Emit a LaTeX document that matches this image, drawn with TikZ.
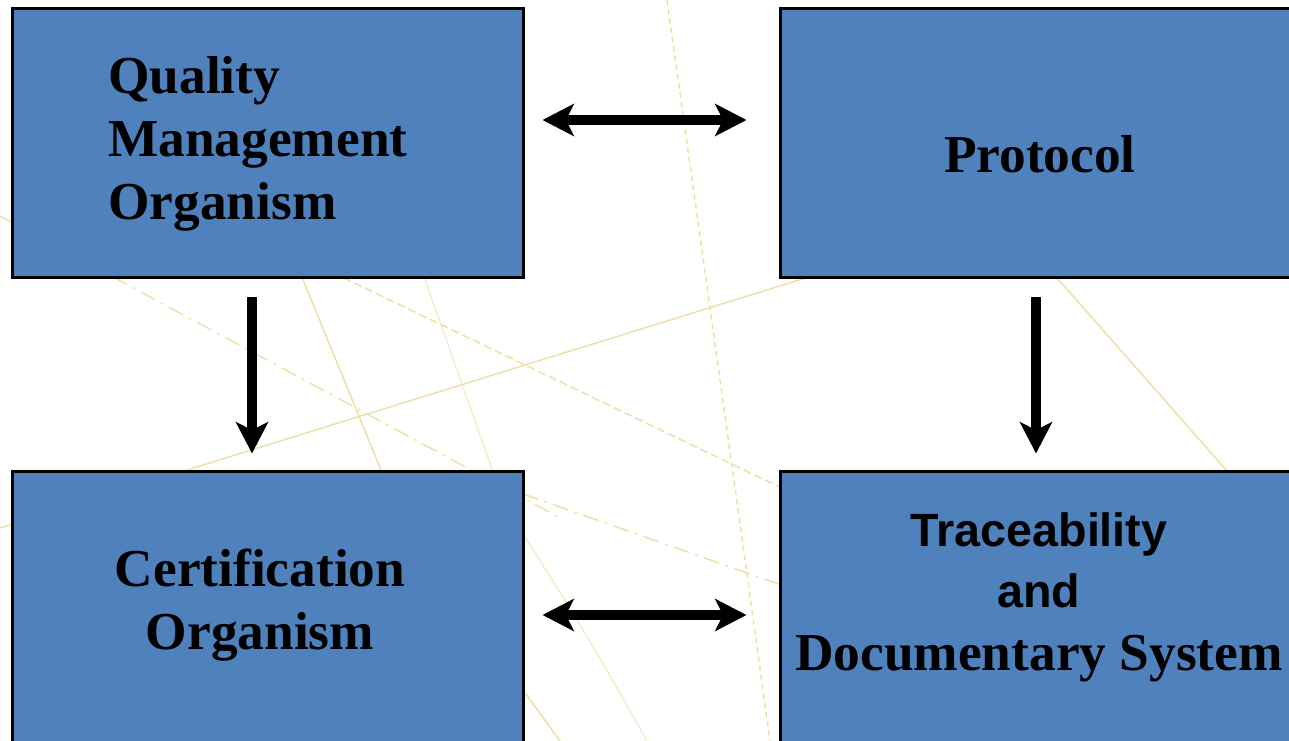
\documentclass[tikz,border=0pt]{standalone}
\usepackage{fontspec}
\setmainfont{Liberation Serif}
\setsansfont{Liberation Sans}
\usetikzlibrary{arrows.meta,calc}
\definecolor{boxblue}{HTML}{4F81BD}
\definecolor{paleline}{HTML}{EEDFA6}

\begin{document}
\begin{tikzpicture}[x=0.75pt, y=-0.75pt, >={Stealth[length=23.5pt, width=24pt, inset=6pt]},
    box/.style={draw=black, line width=2.25pt, fill=boxblue, inner sep=0pt},
    arr/.style={line width=7.2pt},
    bg/.style={paleline, line width=1.1pt},
    lbl/.style={inner sep=0pt, font=\fontsize{40}{47.25}\selectfont\bfseries}]
    \useasboundingbox (0,0) rectangle (1289,741);
    \clip (0,0) rectangle (1289,741);

    % faint lines in the background
    \draw [bg] (0,528) -- (1289,128);
    \draw [bg, dash pattern=on 12pt off 5pt on 2pt off 5pt] (0,216) -- (560,518);
    \draw [bg, dash pattern=on 12pt off 5pt on 2pt off 5pt] (523,494) -- (790,588);
    \draw [bg, dash pattern=on 6pt off 3pt] (300,257) -- (790,492);
    \draw [bg, dash pattern=on 4pt off 3pt] (667,0) -- (733,473) -- (770,741);
    \draw [bg] (295,260) -- (385,480);
    \draw [bg, opacity=0.6] (418,260) -- (496,480);
    \draw [bg] (1050,270) -- (1235,480);
    \draw [bg, opacity=0.6] (525,537) .. controls (590,640) .. (647,741);
    \draw [bg] (523,690) -- (560,741);

    % boxes
    \node [box, minimum width=383.25pt, minimum height=201.75pt] (qmo) at (267.5,143.5) {};
    \node [box, minimum width=390pt, minimum height=201.75pt] (prot) at (1040,143.5) {};
    \node [box, minimum width=383.25pt, minimum height=225pt] (cert) at (267.5,622) {};
    \node [box, minimum width=390pt, minimum height=225pt] (trace) at (1040,622) {};

    \node [lbl, anchor=north west, align=left] (qmotxt) at (108,56.5) {Quality\\Management\\Organism};
    \node [lbl, anchor=base] (prottxt) at (1040,173) {Protocol};
    \node [lbl, anchor=north, align=center] (certtxt) at (260,549) {Certification\\Organism};
    \node [lbl, anchor=north, align=center, font=\fontsize{35}{45.75}\selectfont\bfseries] (tracetxt) at (1039,512.5)
        {\sffamily Traceability\\\sffamily and\\[1.5pt]\rmfamily\fontsize{40}{47.25}\selectfont Documentary System};

    % arrows
    \draw [arr, <->] ([shift={(18,-23.5)}]qmo.east) -- ([shift={(-32,-23.5)}]prot.west);
    \draw [arr, <->] ([shift={(18,-7)}]cert.east) -- ([shift={(-32,-7)}]trace.west);
    \draw [arr, ->] ([shift={(-15.5,18)}]qmo.south) -- ([shift={(-15.5,-17)}]cert.north);
    \draw [arr, ->] ([shift={(-4,18)}]prot.south) -- ([shift={(-4,-17)}]trace.north);
\end{tikzpicture}
\end{document}
